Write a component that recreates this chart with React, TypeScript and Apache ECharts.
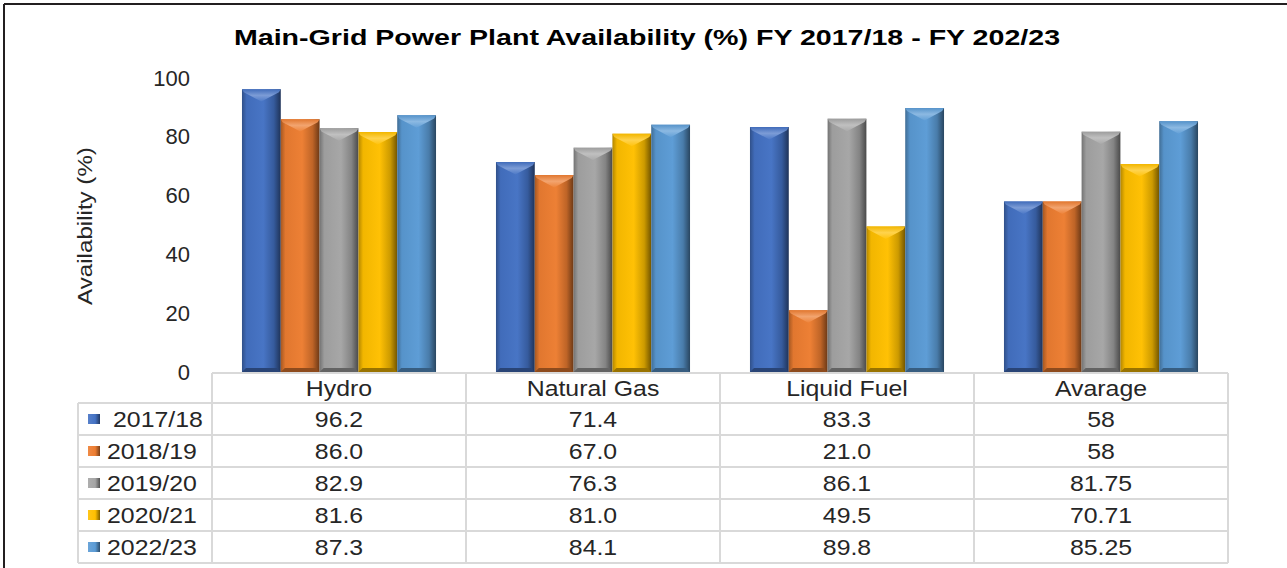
import React, { useEffect, useRef } from "react";
import * as echarts from "echarts";

const categories = ["Hydro", "Natural Gas", "Liquid Fuel", "Avarage"];
const years = ["2017/18", "2018/19", "2019/20", "2020/21", "2022/23"];
const v2017 = [96.2, 71.4, 83.3, 58];
const v2018 = [86.0, 67.0, 21.0, 58];
const v2019 = [82.9, 76.3, 86.1, 81.75];
const v2020 = [81.6, 81.0, 49.5, 70.71];
const v2022 = [87.3, 84.1, 89.8, 85.25];
const seriesValues = [v2017, v2018, v2019, v2020, v2022];
const yTicks = [0, 20, 40, 60, 80, 100];
const colors = ["#4472C4", "#ED7D31", "#A5A5A5", "#FFC000", "#5B9BD5"];
const titleText = "Main-Grid Power Plant Availability (%) FY 2017/18 - FY 202/23";
const yName = "Availability (%)";

const FONT = "Liberation Sans, Arial, sans-serif";
const GRID_L = 212;
const GRID_R = 1228;
const GRID_T = 78;
const GRID_B = 372;
const TABLE_LEFT = 78;
const HEADER_TOP = 373;
const HEADER_BOTTOM = 403;
const ROW_H = 32;
const TXT_SX = 1.13;

function shade(hex: string, f: number): string {
  const n = parseInt(hex.slice(1), 16);
  let r = (n >> 16) & 255, g = (n >> 8) & 255, b = n & 255;
  if (f < 0) {
    r = Math.round(r * (1 + f)); g = Math.round(g * (1 + f)); b = Math.round(b * (1 + f));
  } else {
    r = Math.round(r + (255 - r) * f); g = Math.round(g + (255 - g) * f); b = Math.round(b + (255 - b) * f);
  }
  return `rgb(${r},${g},${b})`;
}

function fmt(v: number, ci: number): string {
  return ci < 3 ? v.toFixed(1) : String(v);
}

export default function App() {
  const ref = useRef<HTMLDivElement>(null);
  useEffect(() => {
    if (!ref.current) return;
    const chart = echarts.init(ref.current, null, { renderer: "svg" });
    const nS = seriesValues.length;
    const groupFrac = 0.764;

    const series: any[] = seriesValues.map((vals, si) => ({
      type: "custom",
      name: years[si],
      data: vals.map((v, ci) => [ci, v]),
      encode: { x: 0, y: 1 },
      renderItem: (params: any, api: any) => {
        const ci = api.value(0);
        const v = api.value(1);
        const top = api.coord([ci, v]);
        const base = api.coord([ci, 0]);
        const catW = api.size([1, 0])[0];
        const w = (catW * groupFrac) / nS;
        const x0 = top[0] - (catW * groupFrac) / 2 + si * w;
        const x1 = x0 + w;
        const y0 = top[1];
        const y1 = base[1];
        const h = y1 - y0;
        const c = colors[si];
        const d = Math.min(w * 0.32, h * 0.5);
        const b = Math.min(4, h * 0.2);
        const xc = (x0 + x1) / 2;
        return {
          type: "group",
          children: [
            {
              type: "rect",
              shape: { x: x0, y: y0, width: w, height: h },
              style: {
                fill: new echarts.graphic.LinearGradient(0, 0, 1, 0, [
                  { offset: 0, color: shade(c, -0.3) },
                  { offset: 0.12, color: shade(c, -0.05) },
                  { offset: 0.55, color: shade(c, 0.02) },
                  { offset: 0.82, color: shade(c, -0.2) },
                  { offset: 1, color: shade(c, -0.55) },
                ]),
              },
            },
            {
              type: "polygon",
              shape: { points: [[x0, y0], [x1, y0], [x1 - d * 0.15, y0 + d * 0.25], [xc, y0 + d], [x0 + d * 0.15, y0 + d * 0.25]] },
              style: {
                fill: new echarts.graphic.LinearGradient(0, 0, 0, 1, [
                  { offset: 0, color: shade(c, -0.05) },
                  { offset: 0.5, color: shade(c, 0.3) },
                  { offset: 1, color: shade(c, 0.05) },
                ]),
              },
            },
            {
              type: "polygon",
              shape: { points: [[x0, y1], [x1, y1], [x1 - b, y1 - b], [x0 + b, y1 - b]] },
              style: { fill: shade(c, -0.4) },
            },
          ],
        };
      },
    }));

    const graphic: any[] = [];
    graphic.push({ type: "line", shape: { x1: 4, y1: 4, x2: 1287, y2: 4 }, style: { stroke: "#231f20", lineWidth: 2 } });
    graphic.push({ type: "line", shape: { x1: 4, y1: 4, x2: 4, y2: 568 }, style: { stroke: "#231f20", lineWidth: 2 } });
    graphic.push({
      type: "text",
      x: 647,
      y: 37,
      scaleX: 1.3,
      style: { text: titleText, font: `bold 22px ${FONT}`, fill: "#000000", align: "center", verticalAlign: "middle" },
    });
    graphic.push({
      type: "text",
      x: 85,
      y: 226,
      rotation: Math.PI / 2,
      scaleX: 1.15,
      style: { text: yName, font: `21px ${FONT}`, fill: "#262626", align: "center", verticalAlign: "middle" },
    });

    const lineStyle = { stroke: "#D9D9D9", lineWidth: 2 };
    const colW = (GRID_R - GRID_L) / categories.length;
    const tableBottom = HEADER_BOTTOM + ROW_H * years.length;
    graphic.push({ type: "line", shape: { x1: GRID_L, y1: HEADER_TOP, x2: GRID_R, y2: HEADER_TOP }, style: lineStyle });
    for (let r = 0; r <= years.length; r++) {
      const y = HEADER_BOTTOM + r * ROW_H;
      graphic.push({ type: "line", shape: { x1: TABLE_LEFT, y1: y, x2: GRID_R, y2: y }, style: lineStyle });
    }
    graphic.push({ type: "line", shape: { x1: TABLE_LEFT, y1: HEADER_BOTTOM, x2: TABLE_LEFT, y2: tableBottom }, style: lineStyle });
    for (let c = 0; c <= categories.length; c++) {
      const x = GRID_L + c * colW;
      graphic.push({ type: "line", shape: { x1: x, y1: HEADER_TOP, x2: x, y2: tableBottom }, style: lineStyle });
    }
    const txt = (text: string, x: number, y: number, align: string) => ({
      type: "text",
      x,
      y,
      scaleX: TXT_SX,
      style: { text, font: `22px ${FONT}`, fill: "#262626", align, verticalAlign: "middle" },
    });
    categories.forEach((cat, ci) => {
      graphic.push(txt(cat, GRID_L + (ci + 0.5) * colW, (HEADER_TOP + HEADER_BOTTOM) / 2 + 1, "center"));
    });
    years.forEach((yr, si) => {
      const cy = HEADER_BOTTOM + (si + 0.5) * ROW_H;
      const c = colors[si];
      graphic.push({
        type: "rect",
        shape: { x: 88, y: cy - 5, width: 12, height: 10 },
        style: {
          fill: new echarts.graphic.LinearGradient(0, 0, 1, 0, [
            { offset: 0, color: shade(c, 0.1) },
            { offset: 0.6, color: c },
            { offset: 1, color: shade(c, -0.5) },
          ]),
        },
      });
      graphic.push(txt(yr, si === 0 ? 113 : 107, cy + 1, "left"));
      seriesValues[si].forEach((v, ci) => {
        graphic.push(txt(fmt(v, ci), GRID_L + (ci + 0.5) * colW, cy + 1, "center"));
      });
    });

    chart.setOption({
      animation: false,
      backgroundColor: "#ffffff",
      grid: { left: GRID_L, right: 1287 - GRID_R, top: GRID_T, bottom: 568 - GRID_B },
      xAxis: {
        type: "category",
        data: categories,
        axisLine: { show: false },
        axisTick: { show: false },
        axisLabel: { show: false },
      },
      yAxis: {
        type: "value",
        min: yTicks[0],
        max: yTicks[yTicks.length - 1],
        interval: 20,
        axisLine: { show: false },
        axisTick: { show: false },
        splitLine: { show: false },
        axisLabel: { fontFamily: FONT, fontSize: 22, color: "#262626", margin: 22 },
      },
      series,
      graphic,
    });
    return () => chart.dispose();
  }, []);
  return <div ref={ref} style={{ position: "fixed", left: 0, top: 0, width: 1287, height: 568 }} />;
}
